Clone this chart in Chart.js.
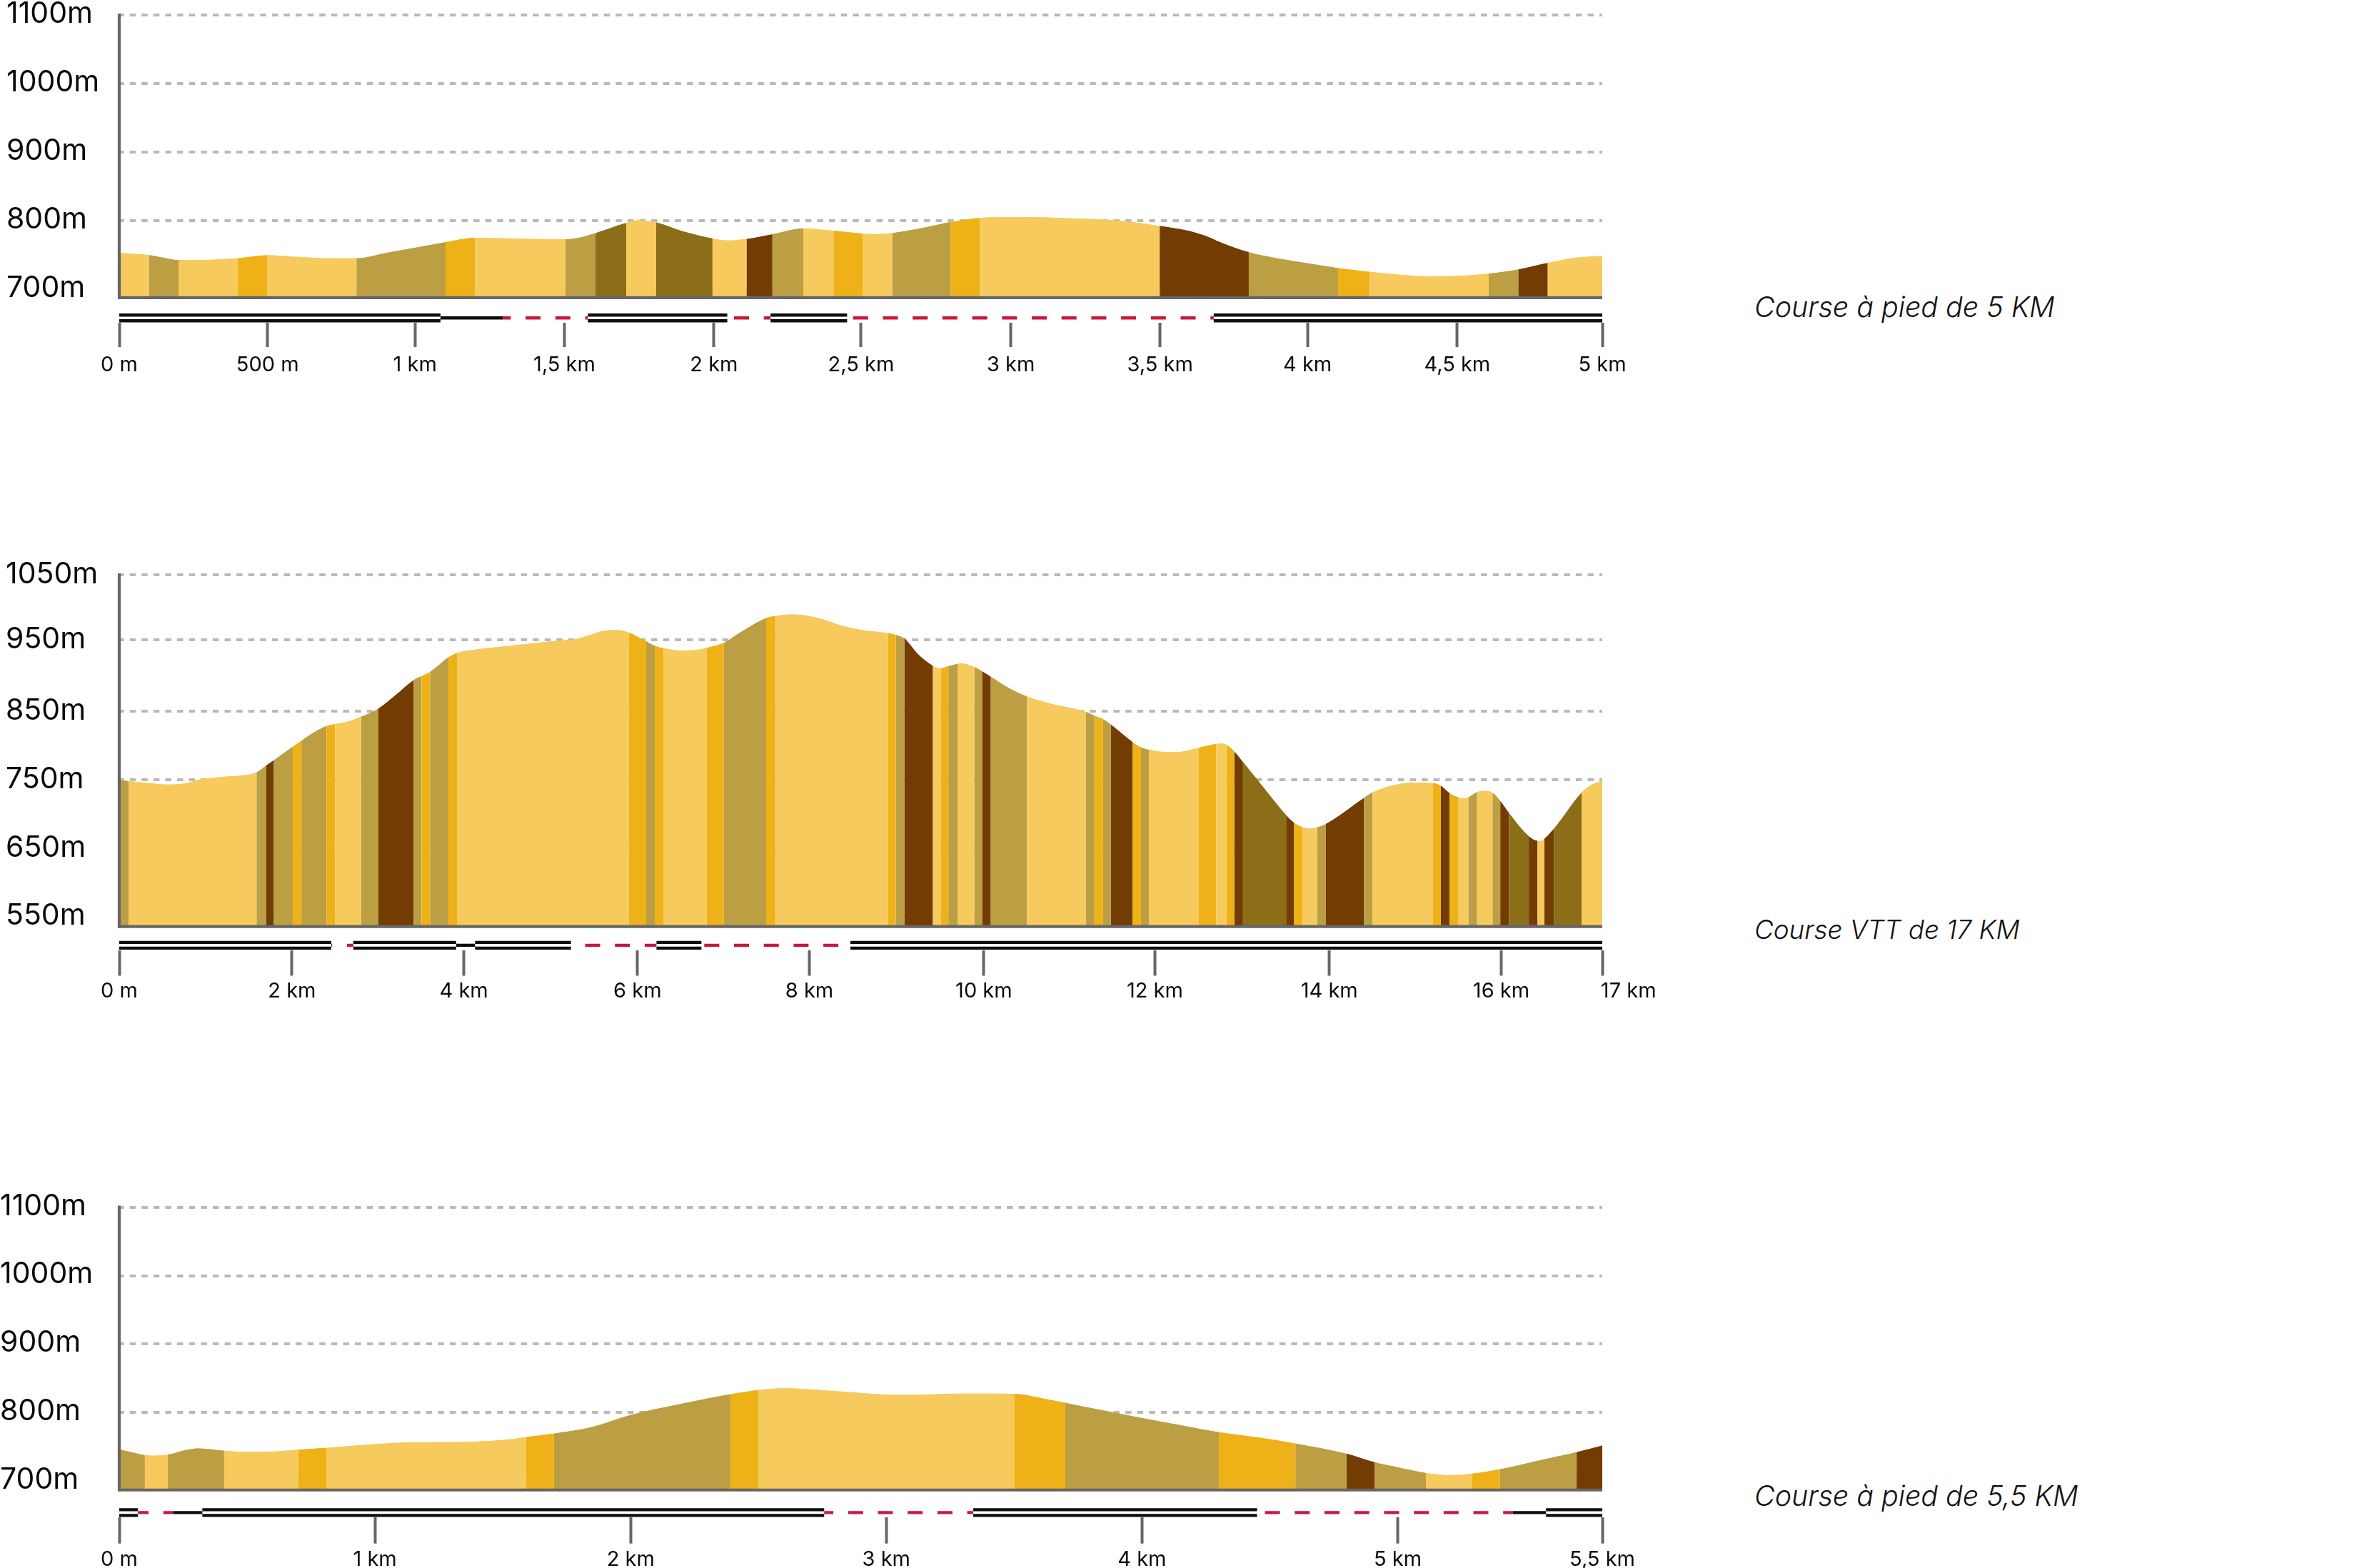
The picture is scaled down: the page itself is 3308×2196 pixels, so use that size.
<!DOCTYPE html>
<html lang="fr"><head><meta charset="utf-8">
<script src="https://cdn.jsdelivr.net/npm/chart.js@4"></script>
<style>
html,body{margin:0;padding:0;background:#fff;width:3308px;height:2196px;overflow:hidden;position:relative}
canvas{position:absolute;left:0}
.cap{position:absolute;left:2457px;font:italic 300 39.4px Inter,sans-serif;color:#111;white-space:nowrap;line-height:44px}
</style></head><body>
<canvas id="c1"></canvas><canvas id="c2"></canvas><canvas id="c3"></canvas>
<div class="cap" style="top:408px">Course à pied de 5 KM</div>
<div class="cap" style="top:1280px;font-size:36.8px">Course VTT de 17 KM</div>
<div class="cap" style="top:2073px">Course à pied de 5,5 KM</div>
<script>
// ---------- course à pied 5 km ----------
const run5Dist=[0,.05,.1,.15,.2,.3,.4,.5,.6,.7,.8,.9,1,1.1,1.2,1.3,1.4,1.505,1.55,1.606,1.709,1.75,1.81,1.9,2,2.05,2.115,2.202,2.306,2.41,2.506,2.55,2.606,2.705,2.803,2.902,3.005,3.105,3.205,3.305,3.405,3.508,3.61,3.66,3.71,3.808,3.91,4.01,4.109,4.216,4.315,4.415,4.515,4.617,4.717,4.816,4.91,5];
const run5Elev=[752.8,751.6,749.8,745.7,742.3,742.7,745,749.4,747,745,745,752.8,760.6,768.4,775,774.3,773.2,772.8,775,781.8,796.7,800.4,797.4,784.4,774,771,773.2,780,788.5,785,781,780.3,781.8,789,797.8,804,805.2,804.8,803.3,801.9,798.5,792.2,784.7,778,768.8,753.9,744.6,737.5,730.8,725.2,721.1,718.5,719.3,722.6,728.6,738.2,745.7,748.3];
const run5BandEdges=[0,.1,.2,.4,.5,.8,1.1,1.2,1.505,1.606,1.709,1.81,2,2.115,2.202,2.306,2.41,2.506,2.606,2.803,2.902,3.508,3.808,4.109,4.216,4.617,4.717,4.816];
const run5BandKinds=["light","tan","light","amber","light","tan","amber","light","tan","olive","light","olive","light","brown","tan","light","amber","light","tan","amber","light","brown","tan","amber","light","tan","brown","light"];
const run5YTicks=[700,800,900,1000,1100];
const run5YLabels=["700m","800m","900m","1000m","1100m"];
const run5XTicks=[0,.5,.997,1.501,2.005,2.501,3.006,3.509,4.006,4.511,5];
const run5XLabels=["0 m","500 m","1 km","1,5 km","2 km","2,5 km","3 km","3,5 km","4 km","4,5 km","5 km"];
const run5Double=[[0,1.083],[1.58,2.05],[2.196,2.454],[3.69,5]];
const run5Single=[[1.083,1.293]];
const run5Dashed=[[1.293,1.58],[2.05,2.196],[2.454,3.69]];

// ---------- VTT 17 km ----------
const bike17Dist=[0,.11,.3,.55,.75,.95,1.2,1.59,1.7,1.79,2.01,2.11,2.25,2.4,2.5,2.65,2.8,3,3.2,3.41,3.5,3.6,3.81,3.91,4.1,4.5,5,5.3,5.6,5.75,5.9,6.1,6.2,6.3,6.5,6.65,6.8,7,7.2,7.49,7.6,7.8,8,8.12,8.4,8.6,8.9,8.99,9.09,9.25,9.42,9.51,9.6,9.71,9.76,9.9,9.99,10.09,10.3,10.51,10.8,11.19,11.29,11.39,11.48,11.73,11.83,11.92,12.15,12.3,12.5,12.7,12.78,12.82,12.91,13.01,13.26,13.51,13.6,13.7,13.8,13.87,13.97,14.41,14.51,14.8,15,15.21,15.3,15.4,15.5,15.56,15.62,15.72,15.82,15.9,15.99,16.09,16.32,16.42,16.46,16.5,16.61,16.93,17.05,17.17];
const bike17Elev=[750,748.2,745.6,743,744.3,750.9,754.4,761,770.7,778.6,798.4,807.2,819,828.7,831.4,835.3,842.3,854.2,874,896,901.7,907.9,929,935.6,940,945.7,952.7,956.2,967.7,969.4,965.5,952.7,946.1,942.6,939.1,939.5,943,950.5,966.4,986.6,989.7,991.9,989.2,985.7,974.3,969,964.6,962,956.7,933.4,916.7,913.1,916.2,919.7,920.2,914.9,908.8,900.8,884.1,871.8,860.8,849.4,843.7,838.8,830.9,805.4,797.5,794,790.5,791.3,797,802.3,802.8,801,791.3,775.9,736.8,698.1,687.1,680.5,679.2,680.5,685.4,723.2,731.5,743.4,745.6,745.2,741.2,730.7,724.5,722.7,724.5,732,733.7,731.1,718.8,701.2,667.3,660.7,660.7,663.8,678.3,731.1,743,748.7];
const bike17BandEdges=[0,.11,1.59,1.7,1.79,2.01,2.11,2.4,2.5,2.8,3,3.41,3.5,3.6,3.81,3.91,5.9,6.1,6.2,6.3,6.8,7,7.49,7.6,8.9,8.99,9.09,9.42,9.51,9.6,9.71,9.9,9.99,10.09,10.51,11.19,11.29,11.39,11.48,11.73,11.83,11.92,12.5,12.7,12.82,12.91,13.01,13.51,13.6,13.7,13.87,13.97,14.41,14.51,15.21,15.3,15.4,15.5,15.62,15.72,15.9,15.99,16.09,16.32,16.42,16.5,16.61,16.93];
const bike17BandKinds=["tan","light","tan","brown","tan","amber","tan","amber","light","tan","brown","tan","amber","tan","amber","light","amber","tan","amber","light","amber","tan","amber","light","amber","tan","brown","light","amber","tan","light","tan","brown","tan","light","tan","amber","tan","brown","amber","tan","light","amber","light","amber","brown","olive","brown","amber","light","tan","brown","tan","light","amber","brown","amber","light","tan","light","tan","brown","olive","brown","light","brown","olive","light"];
const bike17YTicks=[550,650,750,850,955,1050];
const bike17YLabels=["550m","650m","750m","850m","950m","1050m"];
const bike17XTicks=[0,2,3.99,6,7.99,10.01,11.99,14.01,16,17.17];
const bike17XLabels=["0 m","2 km","4 km","6 km","8 km","10 km","12 km","14 km","16 km","         17 km"];
const bike17Double=[[0,2.454],[2.71,3.9],[4.12,5.23],[6.22,6.74],[8.465,17.17]];
const bike17Single=[[3.9,4.12]];
const bike17Dashed=[[2.454,2.71],[5.23,6.22],[6.74,8.465]];

// ---------- course à pied 5,5 km ----------
const run55Dist=[0,.05,.1,.14,.19,.25,.31,.41,.5,.6,.7,.81,1,1.15,1.35,1.5,1.59,1.7,1.85,2,2.2,2.39,2.5,2.6,2.75,3.07,3.3,3.5,3.6,3.7,3.9,4.1,4.3,4.45,4.6,4.8,4.91,5,5.11,5.2,5.29,5.4,5.55,5.7,5.8];
const run55Elev=[746.5,741.9,737.8,737.1,738.5,744.4,747.8,744.4,742.6,743,745.8,748.5,754.1,756.5,757.2,760,764.2,769.4,779.1,796.5,812.9,826.8,833,835.5,832.7,825.7,827.8,827.5,821.6,814.3,799.3,785,771.5,763.8,754.8,739.8,727.3,720,711.7,708.6,710.6,717.2,729.8,742.3,752];
const run55BandEdges=[0,.1,.19,.41,.7,.81,1.59,1.7,2.39,2.5,3.5,3.7,4.3,4.6,4.8,4.91,5.11,5.29,5.4,5.7];
const run55BandKinds=["tan","light","tan","light","amber","light","amber","tan","amber","light","amber","tan","amber","tan","brown","tan","light","amber","tan","brown"];
const run55YTicks=[700,800,900,1000,1100];
const run55YLabels=["700m","800m","900m","1000m","1100m"];
const run55XTicks=[0,1,2,3,4,5,5.8];
const run55XLabels=["0 m","1 km","2 km","3 km","4 km","5 km","5,5 km"];
const run55Double=[[0,.073],[.325,2.757],[3.34,4.45],[5.58,5.8]];
const run55Single=[[.212,.325],[5.45,5.58]];
const run55Dashed=[[.073,.212],[2.757,3.34],[4.45,5.45]];

const COLORS={light:"#F6CA5C",amber:"#EEB218",tan:"#BC9E43",olive:"#8C6D18",brown:"#733C02"};
const AXIS="#666666",GRID="#B9B9B9",RAIL="#0E0E0E",RED="#C8193C";
const FONT="Inter, sans-serif";
const PLOT_LEFT=167,PLOT_RIGHT=2244,CANVAS_W=2400;
const DASH=21,DASH_GAP=20.7;

function spans(list,y){
  const out=[];
  list.forEach(([a,b],i)=>{ if(i) out.push({x:b,y:null}); out.push({x:a,y},{x:b,y}); });
  return out;
}
function rail(data,width,color,cap){
  return {data,borderColor:color,borderWidth:width,pointRadius:0,tension:0,fill:false,spanGaps:false,clip:false,order:1,borderCapStyle:cap||"butt"};
}
function profile(o){
  return {
    data:o.dist.map((d,i)=>({x:d,y:o.elev[i]})),
    borderWidth:0,pointRadius:0,cubicInterpolationMode:"monotone",
    fill:{value:o.base},backgroundColor:COLORS.light,order:3,
    segment:{backgroundColor:c=>{
      const x=c.p0.parsed.x;let k=0;
      o.edges.forEach((e,i)=>{if(e<=x+1e-6)k=i;});
      return COLORS[o.kinds[k]];
    },borderColor:"transparent"}
  };
}
function draw(id,o){
  const cv=document.getElementById(id);
  cv.style.top=o.top+"px";
  const pxPerKm=(PLOT_RIGHT-PLOT_LEFT)/o.xMax;
  const datasets=[profile(o),profile(o),
  rail([{x:0,y:o.base},{x:o.xMax,y:o.base}],4.2,AXIS),
  rail([{x:0,y:o.base},{x:0,y:o.yMax}],4.2,AXIS,"square"),
  rail(spans(o.double,o.lane+o.laneGap),4.4,RAIL),
  rail(spans(o.double,o.lane-o.laneGap),4.4,RAIL),
  rail(spans(o.single,o.lane),4.4,RAIL)];
  o.dashed.forEach(([a,b])=>{
    const ds=rail([{x:a,y:o.lane},{x:b,y:o.lane}],4.4,RED);
    ds.borderDash=[DASH,DASH_GAP];
    ds.borderDashOffset=a*pxPerKm-o.dashPhase+(DASH+DASH_GAP)*10;
    datasets.push(ds);
  });
  new Chart(cv,{type:"line",data:{datasets},options:{
    responsive:false,animation:false,devicePixelRatio:1,
    events:[],
    layout:{padding:{left:o.padLeft,top:o.padTop,right:CANVAS_W-PLOT_RIGHT,bottom:0}},
    plugins:{legend:{display:false},tooltip:{enabled:false},title:{display:false}},
    scales:{
      x:{type:"linear",min:0,max:o.xMax,
        afterBuildTicks:s=>{s.ticks=o.xTicks.map(v=>({value:v}));},
        afterFit:s=>{s.height=o.xAxisH;},
        border:{display:false},
        grid:{drawOnChartArea:false,drawTicks:true,tickLength:o.tickLen,tickWidth:4,tickColor:AXIS,color:AXIS},
        ticks:{autoSkip:false,maxRotation:0,minRotation:0,padding:o.xPad,color:"#0a0a0a",font:{family:FONT,size:29,weight:"400"},
          callback:(v,i)=>o.xLabels[i]}},
      y:{type:"linear",min:o.yMin,max:o.yMax,
        afterBuildTicks:s=>{s.ticks=o.yTicks.map(v=>({value:v}));},
        afterFit:s=>{s.width=PLOT_LEFT-o.padLeft;s.paddingTop=0;s.paddingBottom=0;},
        border:{display:false,dash:[8.5,8.1],dashOffset:1.9},
        grid:{color:GRID,lineWidth:4,drawTicks:false,tickLength:0},
        ticks:{autoSkip:false,crossAlign:"far",padding:0,labelOffset:o.labelOffset,color:"#0a0a0a",font:{family:FONT,size:41,weight:"400"},
          callback:(v,i)=>o.yLabels[i]}}
    }
  }});
}
function size(id,h){const c=document.getElementById(id);c.width=CANVAS_W;c.height=h;c.style.width=CANVAS_W+"px";c.style.height=h+"px";}
size("c1",540);size("c2",640);size("c3",536);

draw("c1",{top:0,padLeft:9,padTop:21,xAxisH:88,tickLen:34,xPad:8,xMax:5,yMin:651,yMax:1100,base:687.6,lane:658,laneGap:4.2,labelOffset:-1.5,dashPhase:27,
  dist:run5Dist,elev:run5Elev,edges:run5BandEdges,kinds:run5BandKinds,yTicks:run5YTicks,yLabels:run5YLabels,xTicks:run5XTicks,xLabels:run5XLabels,double:run5Double,single:run5Single,dashed:run5Dashed});
draw("c2",{top:780,padLeft:8,padTop:25,xAxisH:89.5,tickLen:36,xPad:4,xMax:17.17,yMin:501,yMax:1050,base:535.4,lane:507.9,laneGap:4.2,labelOffset:-0.5,dashPhase:27,
  dist:bike17Dist,elev:bike17Elev,edges:bike17BandEdges,kinds:bike17BandKinds,yTicks:bike17YTicks,yLabels:bike17YLabels,xTicks:bike17XTicks,xLabels:bike17XLabels,double:bike17Double,single:bike17Single,dashed:bike17Dashed});
draw("c3",{top:1660,padLeft:0,padTop:30.7,xAxisH:71,tickLen:36.7,xPad:5,xMax:5.8,yMin:647.1,yMax:1100,base:687,lane:654,laneGap:4.2,labelOffset:-1.5,dashPhase:20,
  dist:run55Dist,elev:run55Elev,edges:run55BandEdges,kinds:run55BandKinds,yTicks:run55YTicks,yLabels:run55YLabels,xTicks:run55XTicks,xLabels:run55XLabels,double:run55Double,single:run55Single,dashed:run55Dashed});
</script>
</body></html>
